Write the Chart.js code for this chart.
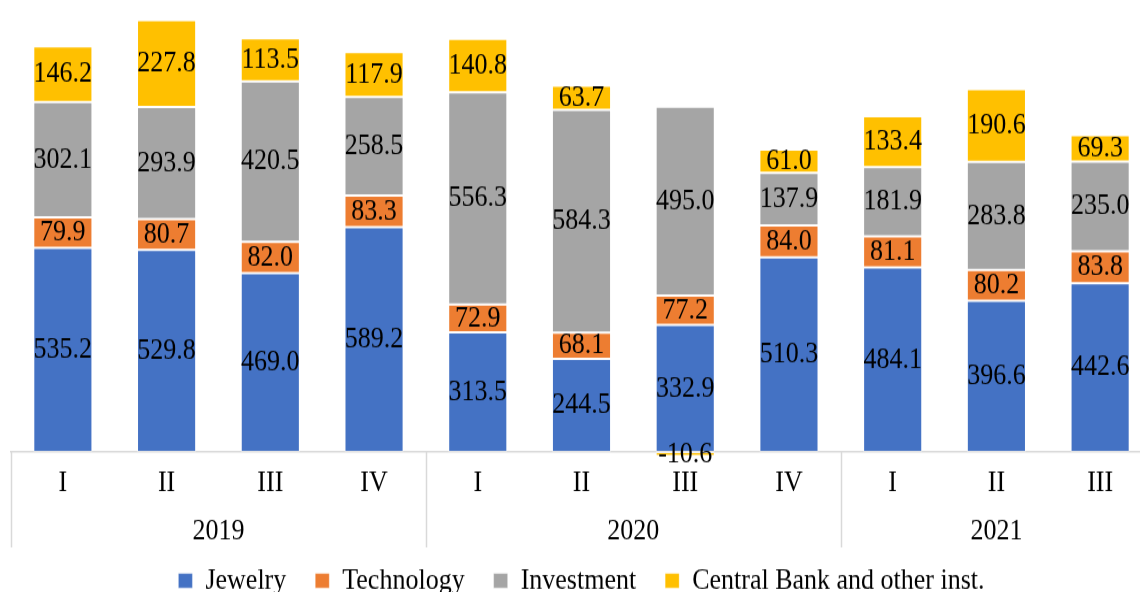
<!DOCTYPE html>
<html>
<head>
<meta charset="utf-8">
<script src="https://cdn.jsdelivr.net/npm/chart.js@4/dist/chart.umd.min.js"></script>
<style>
    html, body { margin: 0; padding: 0; background: #fff; }
    #frame { width: 1140px; height: 592px; overflow: hidden; position: relative; }
    #stretch { width: 1160px; height: 528px; transform: scaleY(1.15); transform-origin: 0 0; }
</style>
</head>
<body>
<div id="frame">
    <div id="stretch">
        <canvas id="chart" width="1160" height="528"></canvas>
    </div>
</div>
<script>
const quarters = ['I', 'II', 'III', 'IV', 'I', 'II', 'III', 'IV', 'I', 'II', 'III'];
const years = ['2019', '2020', '2021'];
const yearSpans = [4, 4, 3];

const jewelry = [535.2, 529.8, 469.0, 589.2, 313.5, 244.5, 332.9, 510.3, 484.1, 396.6, 442.6];
const technology = [79.9, 80.7, 82.0, 83.3, 72.9, 68.1, 77.2, 84.0, 81.1, 80.2, 83.8];
const investment = [302.1, 293.9, 420.5, 258.5, 556.3, 584.3, 495.0, 137.9, 181.9, 283.8, 235.0];
const centralBank = [146.2, 227.8, 113.5, 117.9, 140.8, 63.7, -10.6, 61.0, 133.4, 190.6, 69.3];

const FONT = "'Liberation Serif', 'Times New Roman', serif";
const LINE = '#d9d9d9';

// values written in the middle of every segment
const segmentLabels = {
    id: 'segmentLabels',
    afterDatasetsDraw(chart) {
        const ctx = chart.ctx;
        ctx.save();
        ctx.font = '26px ' + FONT;
        ctx.fillStyle = '#000';
        ctx.textAlign = 'center';
        ctx.textBaseline = 'middle';
        chart.data.datasets.forEach((ds, i) => {
            chart.getDatasetMeta(i).data.forEach((bar, j) => {
                const p = bar.getProps(['x', 'y', 'base'], true);
                ctx.fillText(ds.data[j].toFixed(1), p.x, (p.y + p.base) / 2);
            });
        });
        ctx.restore();
    }
};

// second row of the category axis: years and their dividers
const yearAxis = {
    id: 'yearAxis',
    afterDraw(chart) {
        const ctx = chart.ctx;
        const x = chart.scales.x;
        const top = chart.chartArea.bottom;
        ctx.save();
        ctx.strokeStyle = LINE;
        ctx.lineWidth = 1.5;
        ctx.font = '26px ' + FONT;
        ctx.fillStyle = '#000';
        ctx.textAlign = 'center';
        ctx.textBaseline = 'middle';
        let start = 0;
        const edges = [-0.5];
        yearSpans.forEach((n, k) => {
            const mid = start + (n - 1) / 2;
            ctx.fillText(years[k], x.getPixelForValue(mid), top + 69);
            start += n;
            edges.push(start - 0.5);
        });
        edges.forEach(e => {
            const px = Math.round(x.getPixelForValue(e)) + 0.5;
            ctx.beginPath();
            ctx.moveTo(px, top);
            ctx.lineTo(px, top + 83);
            ctx.stroke();
        });
        ctx.restore();
    }
};

const makeSet = (label, data, color) => ({
    label: label,
    data: data,
    backgroundColor: color,
    borderColor: 'rgba(255, 255, 255, 0.3)',
    borderWidth: 1,
    borderSkipped: false,
    barPercentage: 0.57,
    categoryPercentage: 1.0,
    clip: false
});

new Chart(document.getElementById('chart'), {
    type: 'bar',
    data: {
        labels: quarters,
        datasets: [
            makeSet('Jewelry', jewelry, '#4472C4'),
            makeSet('Technology', technology, '#ED7D31'),
            makeSet('Investment', investment, '#A5A5A5'),
            makeSet('Central Bank and other inst.', centralBank, '#FFC000')
        ]
    },
    options: {
        responsive: false,
        animation: false,
        devicePixelRatio: 1,
        layout: { padding: { left: 11, right: 8, top: 0, bottom: 0 } },
        plugins: {
            legend: {
                position: 'bottom',
                labels: {
                    boxWidth: 14,
                    boxHeight: 12.6,
                    padding: 29,
                    color: '#000',
                    font: { family: FONT, size: 26 }
                }
            },
            tooltip: { enabled: false }
        },
        scales: {
            x: {
                stacked: true,
                grid: { display: false, drawTicks: false },
                border: { display: true, color: LINE, width: 1.5 },
                ticks: {
                    color: '#000',
                    padding: 12,
                    maxRotation: 0,
                    autoSkip: false,
                    font: { family: FONT, size: 26 }
                },
                afterFit(axis) { axis.height = 70; }
            },
            y: {
                stacked: true,
                display: false,
                min: 0,
                max: 1185
            }
        }
    },
    plugins: [segmentLabels, yearAxis]
});
</script>
</body>
</html>
